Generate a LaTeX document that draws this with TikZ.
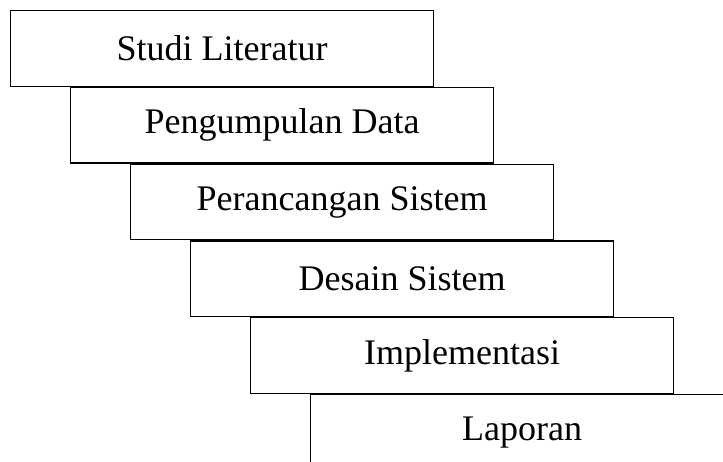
\documentclass[tikz,border=0pt]{standalone}
\usepackage{fontspec}
\setmainfont{Liberation Serif}
\usepackage{tikz}
\usetikzlibrary{positioning}

\begin{document}
\begin{tikzpicture}[x=0.75pt, y=-0.75pt,
        stepbox/.style={draw, line width=0.9pt, minimum width=317.25pt, minimum height=56.7pt,
            inner sep=0pt, font=\fontsize{27}{32}\selectfont}]
            \path[use as bounding box, clip] (0,0) rectangle (723,461);
            \node[stepbox, anchor=north west] (studi) at (10,10) {Studi Literatur};
            \node[stepbox, below right=0pt and 45pt of studi.south west] (data) {Pengumpulan Data};
            \node[stepbox, below right=0pt and 45pt of data.south west] (rancang) {Perancangan Sistem};
            \node[stepbox, below right=0pt and 45pt of rancang.south west] (desain) {Desain Sistem};
            \node[stepbox, below right=0pt and 45pt of desain.south west] (impl) {Implementasi};
            \node[stepbox, below right=0pt and 45pt of impl.south west] (lapor) {Laporan};
        \end{tikzpicture}
\end{document}
